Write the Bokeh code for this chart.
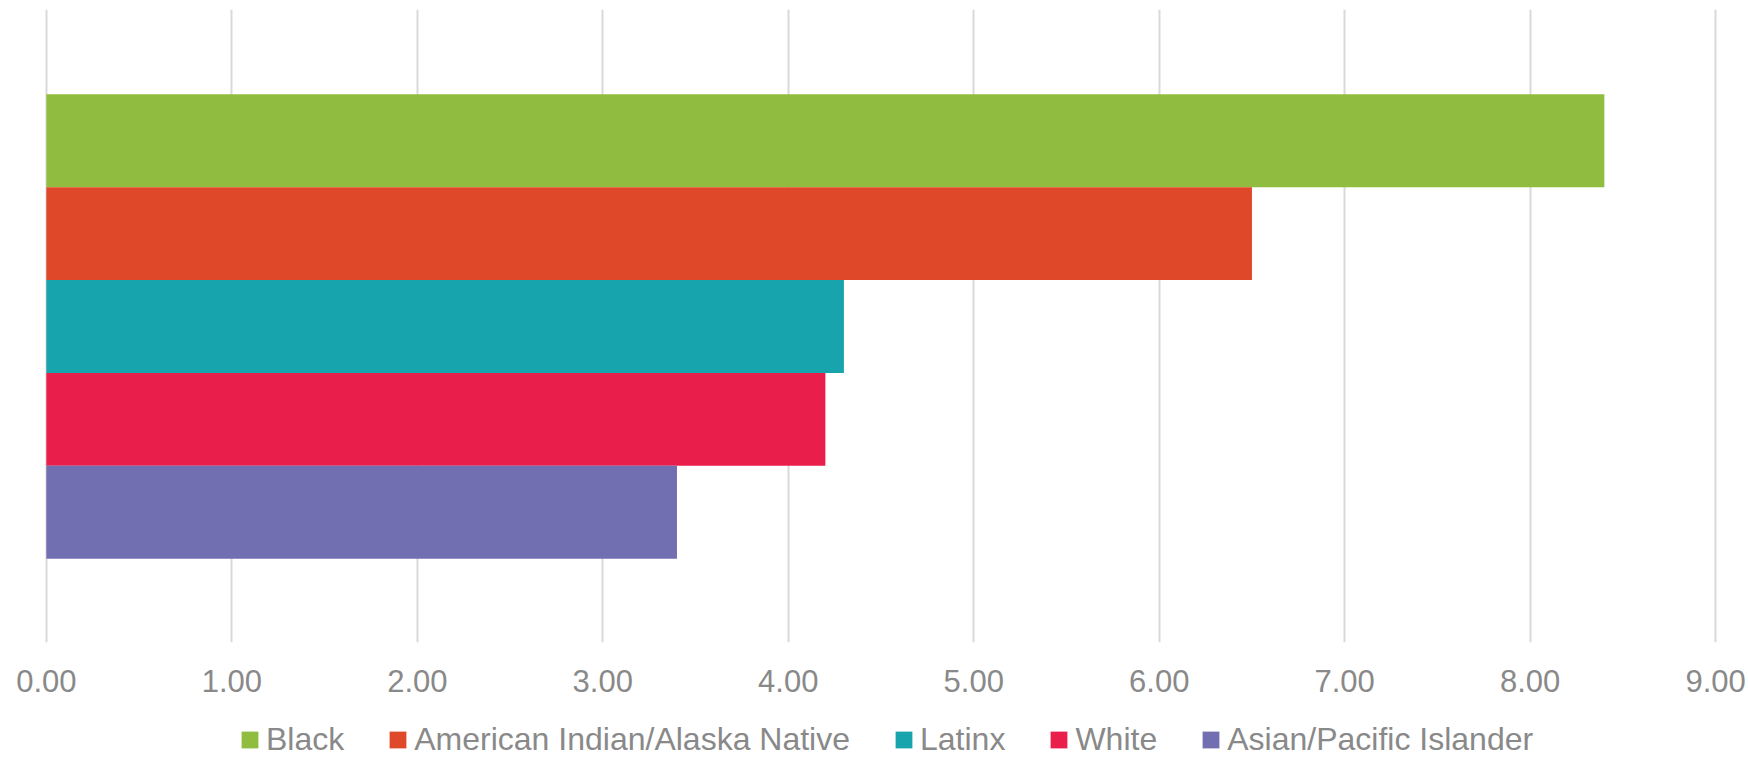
from bokeh.plotting import figure
from bokeh.models import NumeralTickFormatter, Legend, LegendItem, FixedTicker, Range1d
from bokeh.layouts import column
from bokeh.embed import file_html
from bokeh.resources import INLINE

groups = ["Black", "American Indian/Alaska Native", "Latinx", "White", "Asian/Pacific Islander"]
values = [8.4, 6.5, 4.3, 4.2, 3.4]
colors = ["#90BC40", "#E0482A", "#17A4AD", "#EA1E4B", "#716FB1"]
x_ticks = [0, 1, 2, 3, 4, 5, 6, 7, 8, 9]

FONT = "Liberation Sans"
GREY = "#898989"

p = figure(width=1748, height=712, output_backend="svg", toolbar_location=None,
           x_range=Range1d(-0.01, 9.01), y_range=Range1d(-5.403, 1.414),
           min_border_left=44, min_border_right=31, min_border_top=9, min_border_bottom=70)

for i, (g, v, c) in enumerate(zip(groups, values, colors)):
    p.hbar(y=[-i], right=[v], left=0, height=1.0, color=c, line_color=None)

p.yaxis.visible = False
p.ygrid.visible = False
p.outline_line_color = None

p.xaxis.ticker = FixedTicker(ticks=x_ticks)
p.xaxis.formatter = NumeralTickFormatter(format="0.00")
p.xaxis.axis_line_color = None
p.xaxis.major_tick_line_color = None
p.xaxis.minor_tick_line_color = None
p.xaxis.major_tick_out = 0
p.xaxis.major_label_standoff = 27
p.xaxis.major_label_text_font = FONT
p.xaxis.major_label_text_font_size = "31px"
p.xaxis.major_label_text_color = GREY

p.xgrid.grid_line_color = "#D9D9D9"
p.xgrid.grid_line_width = 2

# legend strip below the chart (its bars lie outside its own y range, so only the legend shows)
lg = figure(width=1748, height=49, output_backend="svg", toolbar_location=None,
            x_range=Range1d(0, 1), y_range=Range1d(10, 11),
            min_border_left=0, min_border_right=0, min_border_top=0, min_border_bottom=0)
lg.axis.visible = False
lg.grid.visible = False
lg.outline_line_color = None
items = []
for i, (g, v, c) in enumerate(zip(groups, values, colors)):
    r = lg.hbar(y=[-i], right=[v], left=0, height=1.0, color=c, line_color=None)
    items.append(LegendItem(label=g, renderers=[r]))

legend = Legend(items=items, orientation="horizontal", location=(195, 3),
                label_text_font=FONT, label_text_font_size="32px", label_text_color=GREY,
                glyph_width=21, glyph_height=21, label_height=36, label_standoff=6, spacing=43,
                padding=0, margin=0, border_line_color=None, background_fill_alpha=0)
lg.add_layout(legend, "center")

layout = column(p, lg, spacing=0)
open("out.html", "w").write(file_html(layout, INLINE))
